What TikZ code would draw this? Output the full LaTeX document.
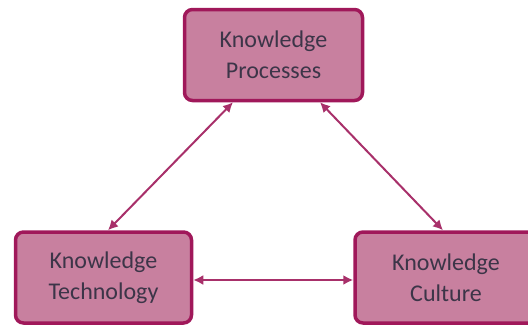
\documentclass[tikz,border=0pt]{standalone}
\usepackage{fontspec}
\setmainfont{Carlito}
\usetikzlibrary{arrows.meta}
\definecolor{boxfill}{HTML}{C8809F}
\definecolor{boxdraw}{HTML}{A0185A}
\definecolor{linkcol}{HTML}{A8306A}
\definecolor{txtcol}{HTML}{3C3548}
\tikzset{
  kbox/.style={draw=boxdraw, fill=boxfill, line width=3.5pt, rounded corners=8pt,
    minimum height=91pt, align=center, text=txtcol, inner sep=0pt,
    font=\fontsize{24}{31}\selectfont},
  link/.style={draw=linkcol, line width=2pt, {Latex[length=10pt,width=10pt]}-{Latex[length=10pt,width=10pt]}}
}
\begin{document}
\begin{tikzpicture}[x=1pt,y=-1pt]
\useasboundingbox (0,0) rectangle (528,327);
\begin{scope}
\clip (0,0) rectangle (528,327);
\node[kbox, minimum width=178pt] (kp) at (273.5,55) {Knowledge\\Processes};
\node[kbox, minimum width=176pt] (kt) at (103.5,277.5) {Knowledge\\Technology};
\node[kbox, minimum width=182pt] (kc) at (446,277.5) {Knowledge\\Culture};
\draw[link] ([xshift=-40.5pt]kp.south) -- ([xshift=4.5pt]kt.north);
\draw[link] ([xshift=46.5pt]kp.south) -- ([xshift=-3pt]kc.north);
\draw[link] ([yshift=-2.5pt]kt.east) -- ([yshift=-2.5pt]kc.west);
\end{scope}
\end{tikzpicture}
\end{document}
